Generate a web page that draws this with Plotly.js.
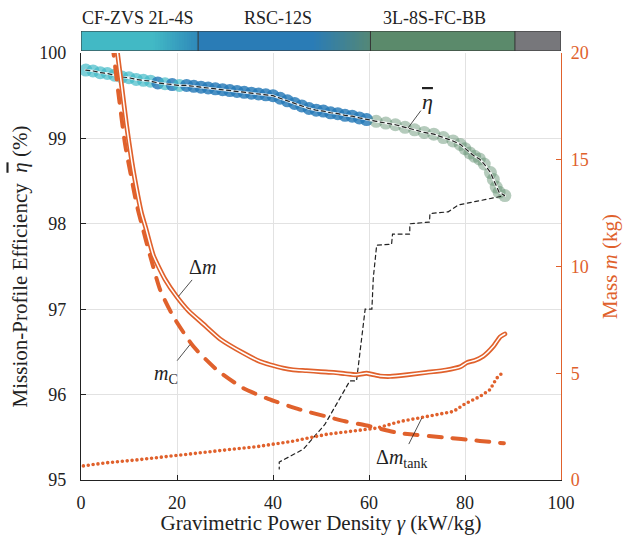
<!DOCTYPE html>
<html>
<head>
<meta charset="utf-8">
<script src="https://cdn.plot.ly/plotly-3.0.1.min.js"></script>
<style>
  html, body { margin: 0; padding: 0; background: #fff; }
  #chart { width: 626px; height: 535px; }
</style>
</head>
<body>
<div id="chart"></div>
<script>
// ---------------- data ----------------
// Converter topology regions along gamma (kW/kg)
const regionNames  = ['CF-ZVS 2L-4S', 'RSC-12S', '3L-8S-FC-BB'];
const regionLabelX = [11.9, 41.0, 73.7];
const regionBounds = [0, 24.4, 60.3, 90.4, 100];
// colour-ramp stops of the top bar (x in kW/kg, value = topology index)
const barStopX = [0, 15.0, 24.4, 24.4, 48.3, 60.3, 60.3, 90.4, 90.4, 100];
const barStopZ = [0, 0.0,  0.8,  1.0,  1.0,  1.85, 2.0,  2.0,  3.0,  3.0];

// Mission-profile efficiency (%), Pareto points
const etaX = [1.0, 2.5, 4.0, 5.5, 7.0, 8.5, 10.0, 11.5, 13.0, 14.5,
              16.0, 17.5, 19.0, 20.5, 22.0, 23.5,
              25.0, 26.5, 28.0, 29.5, 31.0, 32.5, 34.0, 35.5, 37.0, 38.5,
              40.0, 41.5, 43.0, 44.5, 46.0, 47.5, 49.0, 50.5, 52.0, 53.5,
              55.0, 56.5, 58.0, 59.5,
              61.5, 63.5, 65.5, 67.5, 69.5, 71.5, 73.5, 75.5, 77.5, 79.0,
              80.0, 81.0, 82.0, 83.0, 84.0, 85.3, 85.9, 86.5, 87.1, 88.3];
const etaY = [99.80, 99.79, 99.77, 99.76, 99.74, 99.72, 99.71, 99.69, 99.68, 99.67,
              99.65, 99.64, 99.63, 99.62, 99.62, 99.61,
              99.60, 99.59, 99.58, 99.57, 99.56, 99.55, 99.54, 99.53, 99.52, 99.51,
              99.50, 99.47, 99.44, 99.41, 99.38, 99.35, 99.33, 99.32, 99.30, 99.29,
              99.27, 99.26, 99.24, 99.22,
              99.20, 99.18, 99.16, 99.13, 99.10, 99.07, 99.05, 99.01, 98.97, 98.93,
              98.88, 98.83, 98.79, 98.76, 98.70, 98.60, 98.52, 98.43, 98.37, 98.33];
// topology index of each Pareto point (0 CF-ZVS, 1 RSC, 2 3L-FC)
const etaTopo = [0,0,0,0,0,0,0,0,0,0,
                 1,0,1,0,1,1,
                 1,1,1,1,1,1,1,1,1,1,
                 1,1,1,1,1,1,1,1,1,1,
                 1,1,1,1,
                 2,2,2,2,2,2,2,2,2,2,
                 2,2,2,2,2,2,2,2,2,2];
// dashed return branch of the efficiency line
const retX = [88.3, 78.6, 76.5, 72.7, 72.6, 68.5, 68.5, 64.9, 64.7, 61.6, 60.9, 60.6, 59.2,
              57.4, 56.0, 50.8, 46.3, 41.3, 41.3];
const retY = [98.33, 98.22, 98.14, 98.12, 98.02, 98.00, 97.88, 97.88, 97.76, 97.75, 97.37, 97.00, 97.00,
              96.16, 96.16, 95.65, 95.36, 95.21, 95.13];

// Masses (kg)
const dmX = [7.3, 7.6, 8.5, 9.5, 10.6, 11.2, 12.6, 13.5, 15.1, 17.5, 19.9, 22.5, 25.5, 29.0,
             33.8, 37.3, 39.4, 42.1, 44.2, 47.0, 50.0, 52.6, 55.0, 57.4, 59.5, 62.3, 64.4,
             68.0, 72.0, 76.0, 79.0, 80.4, 82.0, 83.8, 85.9, 87.3, 88.3];
const dmY = [20.6, 20.0, 18.4, 16.6, 14.9, 14.1, 12.5, 11.8, 10.5, 9.4, 8.6, 7.9, 7.3, 6.6,
             5.95, 5.55, 5.40, 5.24, 5.16, 5.12, 5.07, 5.04, 4.98, 4.93, 5.00, 4.87, 4.85,
             4.93, 5.04, 5.15, 5.30, 5.50, 5.60, 5.80, 6.26, 6.70, 6.84];
const mcX = [6.5, 7.8, 9.2, 10.2, 11.6, 12.5, 14.4, 16.5, 19.2, 23.4, 28.3, 33.8, 39.0,
             45.6, 51.2, 55.0, 59.5, 66.5, 75.5, 83.1, 88.1];
const mcY = [20.5, 18.1, 15.7, 14.5, 12.9, 12.1, 10.5, 8.9, 7.67, 6.26, 5.16, 4.30, 3.80,
             3.30, 2.97, 2.75, 2.55, 2.19, 2.00, 1.83, 1.72];
const tankX = [0.5, 5.0, 11.6, 19.9, 29.0, 36.6, 44.2, 51.2, 58.1, 61.6, 66.5, 72.0,
               77.6, 80.0, 83.1, 85.2, 86.6, 88.1];
const tankY = [0.66, 0.80, 0.94, 1.17, 1.38, 1.56, 1.82, 2.14, 2.35, 2.43, 2.74, 2.97,
               3.21, 3.57, 3.91, 4.23, 4.77, 5.08];

// ---------------- styling ----------------
const FONT = 'Liberation Serif, "Times New Roman", serif';
const ORANGE = '#e0612c';
const INK = '#222222';
const topoColors = ['rgba(62,184,197,0.68)', 'rgba(36,121,183,0.82)', 'rgba(92,140,106,0.45)'];
const ETA = '<i><span style="text-decoration:overline">η</span></i>';

// top bar: heatmap cells coloured by ramp between the stops
const barCellX = [], barZ = [];
for (let c = 0.25; c < 100; c += 0.5) {
  let z = barStopZ[barStopZ.length - 1];
  for (let k = 0; k < barStopX.length - 1; k++) {
    const a = barStopX[k], b = barStopX[k + 1];
    if (c >= a && c < b) { z = b > a ? barStopZ[k] + (barStopZ[k + 1] - barStopZ[k]) * (c - a) / (b - a) : barStopZ[k + 1]; break; }
  }
  barCellX.push(c); barZ.push(z);
}

const traces = [
  { type: 'heatmap', x: barCellX, y: [0.5], z: [barZ], xaxis: 'x', yaxis: 'y3',
    zmin: 0, zmax: 3, showscale: false, hoverinfo: 'skip',
    colorscale: [[0, '#42b9c5'], [1/3, '#2a7cb6'], [2/3, '#5b8a6b'], [1, '#77777b']] },
  // efficiency markers
  { type: 'scatter', mode: 'markers', x: etaX, y: etaY, xaxis: 'x', yaxis: 'y', hoverinfo: 'skip',
    marker: { size: 13, color: etaTopo.map(t => topoColors[t]), line: { width: 0 } } },
  // white underlay of the dashed efficiency line
  { type: 'scatter', mode: 'lines', x: etaX, y: etaY, xaxis: 'x', yaxis: 'y', hoverinfo: 'skip',
    line: { color: 'rgba(255,255,255,0.85)', width: 2.4 } },
  // dashed efficiency line incl. return branch
  { type: 'scatter', mode: 'lines', x: etaX.concat(retX.slice(1)), y: etaY.concat(retY.slice(1)),
    xaxis: 'x', yaxis: 'y', hoverinfo: 'skip', line: { color: INK, width: 1.2, dash: '4px,3.5px' } },
  // tank mass (dotted)
  { type: 'scatter', mode: 'lines', x: tankX, y: tankY, xaxis: 'x', yaxis: 'y2', hoverinfo: 'skip',
    line: { color: ORANGE, width: 3.6, dash: '0px,4.9px' } },
  // capacitor mass (dashed)
  { type: 'scatter', mode: 'lines', x: mcX, y: mcY, xaxis: 'x', yaxis: 'y2', hoverinfo: 'skip',
    line: { color: ORANGE, width: 4, dash: '13px,11px', shape: 'spline', smoothing: 0.6 } },
  // Delta m (double line)
  { type: 'scatter', mode: 'lines', x: dmX, y: dmY, xaxis: 'x', yaxis: 'y2', hoverinfo: 'skip',
    line: { color: ORANGE, width: 4.8, shape: 'spline', smoothing: 0.5 } },
  { type: 'scatter', mode: 'lines', x: dmX, y: dmY, xaxis: 'x', yaxis: 'y2', hoverinfo: 'skip',
    line: { color: '#ffffff', width: 1.5, shape: 'spline', smoothing: 0.5 } }
];

const annFont = { family: FONT, size: 20, color: INK };
const annotations = regionNames.map((n, i) => ({
  text: n, x: regionLabelX[i], xref: 'x', y: 1, yref: 'paper', yanchor: 'bottom', yshift: 1,
  showarrow: false, font: { family: FONT, size: 18, color: INK }
}));
annotations.push(
  { text: ETA, x: 68.1, y: 99.12, xref: 'x', yref: 'y', ax: 20, ay: -27,
    showarrow: true, arrowhead: 0, arrowwidth: 0.8, arrowcolor: INK, font: { family: FONT, size: 22, color: INK } },
  { text: 'Δ<i>m</i>', x: 20.3, y: 8.6, xref: 'x', yref: 'y2', ax: 24, ay: -29,
    showarrow: true, arrowhead: 0, arrowwidth: 0.8, arrowcolor: INK, font: annFont },
  { text: '<i>m</i><sub>C</sub>', x: 22.7, y: 6.34, xref: 'x', yref: 'y2', ax: -24, ay: 30,
    showarrow: true, arrowhead: 0, arrowwidth: 0.8, arrowcolor: INK, font: annFont },
  { text: 'Δ<i>m</i><sub>tank</sub>', x: 71, y: 2.9, xref: 'x', yref: 'y2', ax: -20, ay: 40,
    showarrow: true, arrowhead: 0, arrowwidth: 0.8, arrowcolor: INK, font: annFont }
);

const shapes = [
  { type: 'rect', xref: 'x', yref: 'y3', x0: regionBounds[0], x1: regionBounds[regionBounds.length - 1],
    y0: 0, y1: 1, line: { color: '#333', width: 1 }, layer: 'above' }
];
for (let k = 1; k < regionBounds.length - 1; k++) {
  shapes.push({ type: 'line', xref: 'x', yref: 'y3', x0: regionBounds[k], x1: regionBounds[k],
    y0: 0, y1: 1, line: { color: '#333', width: 1 }, layer: 'above' });
}

const layout = {
  width: 626, height: 535,
  margin: { l: 81, r: 65, t: 31, b: 55, pad: 0 },
  paper_bgcolor: '#ffffff', plot_bgcolor: 'rgba(0,0,0,0)',
  showlegend: false,
  font: { family: FONT, size: 18, color: INK },
  xaxis: {
    range: [0, 100], tick0: 0, dtick: 20, ticks: 'inside', ticklen: 5, tickcolor: INK,
    showline: true, linecolor: INK, linewidth: 1.2, showgrid: true, gridcolor: '#e2e2e2',
    zeroline: false, anchor: 'y', ticklabelstandoff: 6, automargin: false,
    title: { text: 'Gravimetric Power Density <i>γ</i> (kW/kg)', font: { size: 21 }, standoff: 2 }
  },
  yaxis: {
    domain: [0, 0.951], range: [95, 100], tick0: 95, dtick: 1, ticks: 'inside', ticklen: 5, tickcolor: INK,
    showline: true, linecolor: INK, linewidth: 1.2, showgrid: true, gridcolor: '#e2e2e2',
    zeroline: false, anchor: 'x', ticklabelstandoff: 10, automargin: false,
    title: { text: 'Mission-Profile Efficiency  ' + ETA + ' (%)', font: { size: 21 }, standoff: 5 }
  },
  yaxis2: {
    overlaying: 'y', side: 'right', anchor: 'x', range: [0, 20], tick0: 0, dtick: 5,
    ticks: 'inside', ticklen: 5, tickcolor: ORANGE, showline: true, linecolor: ORANGE, linewidth: 1.2,
    showgrid: false, zeroline: false, tickfont: { color: ORANGE }, ticklabelstandoff: 5, automargin: false,
    title: { text: 'Mass <i>m</i> (kg)', font: { size: 21, color: ORANGE }, standoff: 14 }
  },
  yaxis3: { domain: [0.9555, 1], range: [0, 1], visible: false, anchor: 'x', fixedrange: true },
  annotations: annotations,
  shapes: shapes
};

Plotly.newPlot('chart', traces, layout, { displayModeBar: false, staticPlot: true }).then(() => {
  document.querySelectorAll('path.js-line').forEach(p => { p.style.strokeLinecap = 'round'; });
});
</script>
</body>
</html>
